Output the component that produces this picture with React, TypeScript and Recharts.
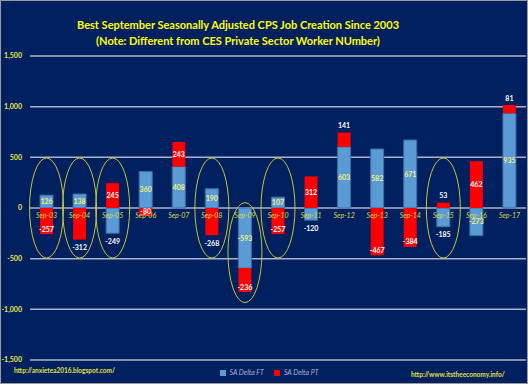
import React from 'react';
import { BarChart, Bar, XAxis, YAxis, CartesianGrid, Legend, LabelList, ReferenceDot } from 'recharts';

const months = ['Sep-03', 'Sep-04', 'Sep-05', 'Sep-06', 'Sep-07', 'Sep-08', 'Sep-09', 'Sep-10', 'Sep-11', 'Sep-12', 'Sep-13', 'Sep-14', 'Sep-15', 'Sep-16', 'Sep-17'];
const ftDelta = [126, 138, -249, 360, 408, 190, -593, 107, -120, 603, 582, 671, -185, -273, 935];
const ptDelta = [-257, -312, 245, -80, 243, -268, -236, -257, 312, 141, -467, -384, 53, 462, 81];
const yTicks = [-1500, -1000, -500, 0, 500, 1000, 1500];

// months circled in the original, and where each ellipse sits
const circledMonths = ['Sep-03', 'Sep-04', 'Sep-05', 'Sep-08', 'Sep-09', 'Sep-10', 'Sep-15'];
const circleCenters = [0, 0, 0, 0, -440, 0, 0];

// labels the original puts outside the bar
const ftOutside = ['Sep-05', 'Sep-11', 'Sep-15'];
const ptOutside = ['Sep-04', 'Sep-08', 'Sep-12', 'Sep-15', 'Sep-17'];

const data = months.map((m, i) => ({ month: m, ft: ftDelta[i], pt: ptDelta[i] }));

const FONT = 'Lato, "Open Sans", sans-serif';
const YELLOW = '#ffff00';

const valueLabel = (values: number[], outside: string[], color: string, negEnd: boolean) => (props: any) => {
  const vb = props.viewBox || props;
  const i = props.index;
  const v = values[i];
  if (v === undefined) return null;
  const top = Math.min(vb.y, vb.y + vb.height);
  const bottom = Math.max(vb.y, vb.y + vb.height);
  const cx = vb.x + vb.width / 2;
  let cy = (top + bottom) / 2;
  let fill = color;
  if (outside.includes(months[i])) {
    cy = v > 0 ? top - 7 : bottom + 8;
    fill = '#ffffff';
  } else if (negEnd && v < 0) {
    // negative part-time labels sit at the inside end
    cy = bottom - 5;
  }
  return (
    <text x={cx} y={cy} dy={2.5} textAnchor="middle" fontSize={7} fontWeight="bold" fill={fill} fontFamily={FONT}>
      {v}
    </text>
  );
};

const fmt = (v: number) => v.toLocaleString('en-US');

export default function App() {
  return (
    <div
      style={{
        position: 'fixed',
        left: 0,
        top: 0,
        width: 528,
        height: 384,
        background: '#002060',
        boxShadow: 'inset 0 0 0 1px #9c9c9c',
        fontFamily: FONT,
      }}
    >
      <div
        style={{
          position: 'absolute',
          top: 17,
          left: 0,
          width: 476,
          textAlign: 'center',
          color: YELLOW,
          fontWeight: 'bold',
          fontSize: 11,
          lineHeight: '16px',
        }}
      >
        Best September Seasonally Adjusted CPS Job Creation Since 2003
        <br />
        (Note: Different from CES Private Sector Worker NUmber)
      </div>
      <BarChart
        width={528}
        height={384}
        data={data}
        stackOffset="sign"
        barSize={13}
        margin={{ top: 56, right: 2, bottom: 24, left: 0 }}
      >
        <CartesianGrid vertical={false} stroke="#a9b3c9" strokeWidth={1.5} />
        <XAxis dataKey="month" hide />
        <YAxis
          width={30}
          domain={[-1500, 1500]}
          ticks={yTicks}
          tickFormatter={fmt}
          axisLine={false}
          tickLine={false}
          tick={{ fill: '#e8e84a', fontSize: 7, fontWeight: 'bold', fontFamily: FONT }}
        />
        <Bar dataKey="ft" name="SA Delta FT" stackId="a" fill="#5b9bd5" stroke="#3f6f9f" strokeWidth={1} isAnimationActive={false}>
          <LabelList dataKey="ft" content={valueLabel(ftDelta, ftOutside, '#f2f27a', false)} />
        </Bar>
        <Bar dataKey="pt" name="SA Delta PT" stackId="a" fill="#ff0000" isAnimationActive={false}>
          <LabelList dataKey="pt" content={valueLabel(ptDelta, ptOutside, '#ffffff', true)} />
        </Bar>
        {months.map((m) => (
          <ReferenceDot
            key={'lbl-' + m}
            x={m}
            y={0}
            r={0}
            ifOverflow="visible"
            shape={() => <g />}
            label={{
              value: m,
              position: 'bottom',
              offset: 5,
              fill: '#d8d840',
              fontSize: 7,
              fontStyle: 'italic',
              fontFamily: FONT,
            }}
          />
        ))}
        {circledMonths.map((m, i) => (
          <ReferenceDot
            key={'ring-' + m}
            x={m}
            y={circleCenters[i]}
            r={1}
            ifOverflow="visible"
            shape={(p: any) => <ellipse cx={p.cx} cy={p.cy} rx={17} ry={50} fill="none" stroke="#c6c632" strokeWidth={1} />}
          />
        ))}
        <Legend
          verticalAlign="middle"
          align="center"
          iconType="square"
          iconSize={6}
          wrapperStyle={{ top: 367, left: 10, width: 528, fontSize: 7, fontStyle: 'italic', lineHeight: '10px' }}
          formatter={(v: string) => <span style={{ color: '#a9b6d4' }}>{v}</span>}
        />
      </BarChart>
      <div style={{ position: 'absolute', left: 14, top: 367, fontSize: 6.5, fontWeight: 'bold', color: '#e0e040' }}>
        http://anxietea2016.blogspot.com/
      </div>
      <div style={{ position: 'absolute', left: 411, top: 371, fontSize: 6.5, fontWeight: 'bold', color: '#e0e040' }}>
        http://www.itstheeconomy.info/
      </div>
    </div>
  );
}
